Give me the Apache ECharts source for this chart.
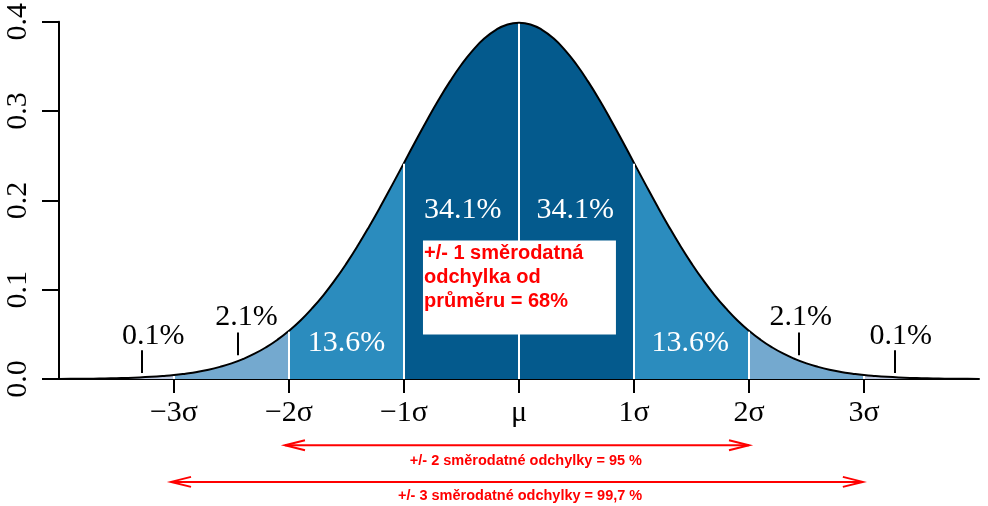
<!DOCTYPE html>
<html>
<head>
<meta charset="utf-8">
<script src="https://cdn.jsdelivr.net/npm/echarts@6/dist/echarts.min.js"></script>
<style>html,body{margin:0;padding:0;background:#fff;}#c{width:988px;height:506px;}</style>
</head>
<body>
<div id="c"></div>
<script>
// ---- data ----
const xs = [-4.0,-3.9,-3.8,-3.7,-3.6,-3.5,-3.4,-3.3,-3.2,-3.1,-3.0,-2.9,-2.8,-2.7,-2.6,-2.5,-2.4,-2.3,-2.2,-2.1,
  -2.0,-1.9,-1.8,-1.7,-1.6,-1.5,-1.4,-1.3,-1.2,-1.1,-1.0,-0.9,-0.8,-0.7,-0.6,-0.5,-0.4,-0.3,-0.2,-0.1,
  0.0,0.1,0.2,0.3,0.4,0.5,0.6,0.7,0.8,0.9,1.0,1.1,1.2,1.3,1.4,1.5,1.6,1.7,1.8,1.9,
  2.0,2.1,2.2,2.3,2.4,2.5,2.6,2.7,2.8,2.9,3.0,3.1,3.2,3.3,3.4,3.5,3.6,3.7,3.8,3.9,4.0];
const ys = [0.0001,0.0002,0.0003,0.0004,0.0006,0.0009,0.0012,0.0017,0.0024,0.0033,0.0044,0.0060,0.0079,0.0104,0.0136,0.0175,0.0224,0.0283,0.0355,0.0440,
  0.0540,0.0656,0.0790,0.0940,0.1109,0.1295,0.1497,0.1714,0.1942,0.2179,0.2420,0.2661,0.2897,0.3123,0.3332,0.3521,0.3683,0.3814,0.3910,0.3970,
  0.3989,0.3970,0.3910,0.3814,0.3683,0.3521,0.3332,0.3123,0.2897,0.2661,0.2420,0.2179,0.1942,0.1714,0.1497,0.1295,0.1109,0.0940,0.0790,0.0656,
  0.0540,0.0440,0.0355,0.0283,0.0224,0.0175,0.0136,0.0104,0.0079,0.0060,0.0044,0.0033,0.0024,0.0017,0.0012,0.0009,0.0006,0.0004,0.0003,0.0002,0.0001];
const regionFrom = [-4, -3, -2, -1, 1, 2, 3];
const regionTo   = [-3, -2, -1, 1, 2, 3, 4];
const regionColor = ['#BDC9E1', '#74A9CF', '#2B8CBE', '#045A8D', '#2B8CBE', '#74A9CF', '#BDC9E1'];
const dividers = [-3, -2, -1, 0, 1, 2, 3];
const tickValues = [-3, -2, -1, 0, 1, 2, 3];
const tickLabels = ['\u22123\u03c3', '\u22122\u03c3', '\u22121\u03c3', '\u03bc', '1\u03c3', '2\u03c3', '3\u03c3'];
const yTicks = [0.0, 0.1, 0.2, 0.3, 0.4];
// percentage labels: text, x, y (data units)
const pctText = ['0.1%', '2.1%', '13.6%', '34.1%', '34.1%', '13.6%', '2.1%', '0.1%'];
const pctX    = [-3.18, -2.37, -1.50, -0.49, 0.49, 1.49, 2.45, 3.32];
const pctY    = [0.0475, 0.0693, 0.0399, 0.1889, 0.1889, 0.0399, 0.0693, 0.0475];
const pctColor = ['#000', '#000', '#fff', '#fff', '#fff', '#fff', '#000', '#000'];
// pointer marks for tail labels
const markX  = [-3.278, -2.443, 2.435, 3.270];
const markY0 = [0.0066, 0.0266, 0.0266, 0.0066];
const markY1 = [0.0321, 0.0521, 0.0521, 0.0321];
// red annotation
const boxText = '+/- 1 sm\u011brodatn\u00e1\nodchylka od\npr\u016fm\u011bru = 68%';
const boxX = [-0.835, 0.843];
const boxY = [0.1551, 0.0499];
const arrowText = ['+/- 2 sm\u011brodatn\u00e9 odchylky = 95 %', '+/- 3 sm\u011brodatn\u00e9 odchylky = 99,7 %'];
const arrowFrom = [-2.035, -3.026];
const arrowTo   = [2.0, 2.99];
const arrowY    = [-0.0742, -0.1152];
const arrowTextX = [0.06, 0.01];
const arrowTextY = [-0.0920, -0.1307];

const SERIF = "'Liberation Serif','Times New Roman',serif";
const SANS = "'Liberation Sans',Arial,sans-serif";

const chart = echarts.init(document.getElementById('c'), null, {renderer: 'canvas'});

function regionData(a, b) {
  const d = [];
  for (let i = 0; i < xs.length; i++) {
    if (xs[i] >= a - 1e-9 && xs[i] <= b + 1e-9) d.push([xs[i], ys[i]]);
  }
  return d;
}
function yAt(x) {
  let best = 0;
  for (let i = 0; i < xs.length; i++) if (Math.abs(xs[i] - x) < Math.abs(xs[best] - x)) best = i;
  return ys[best];
}

const series = [];
for (let r = 0; r < regionFrom.length; r++) {
  series.push({
    type: 'line', data: regionData(regionFrom[r], regionTo[r]), smooth: true, symbol: 'none', silent: true,
    lineStyle: {width: 0, color: regionColor[r]}, areaStyle: {color: regionColor[r], opacity: 1}, z: 2
  });
}
series.push({
  type: 'line', data: [], silent: true, z: 3,
  markLine: {
    silent: true, symbol: 'none', animation: false, label: {show: false},
    lineStyle: {color: '#fff', width: 2, type: 'solid'},
    data: dividers.map(x => [{coord: [x, 0]}, {coord: [x, yAt(x) - 0.001]}])
  }
});
series.push({
  type: 'line', data: xs.map((x, i) => [x, ys[i]]), smooth: true, symbol: 'none', silent: true, z: 4,
  lineStyle: {color: '#000', width: 2},
  markLine: {
    silent: true, symbol: 'none', animation: false, label: {show: false},
    lineStyle: {color: '#000', width: 2, type: 'solid'},
    data: markX.map((x, i) => [{coord: [x, markY0[i]]}, {coord: [x, markY1[i]]}])
  }
});

chart.setOption({
  animation: false,
  grid: {left: 59, right: 9, top: 18, bottom: 127, containLabel: false},
  xAxis: {
    type: 'value', min: -4, max: 4, interval: 1,
    axisLine: {show: true, onZero: false, lineStyle: {color: '#000', width: 2}},
    axisTick: {show: true, length: 14, lineStyle: {color: '#000', width: 2}, customValues: tickValues},
    axisLabel: {
      show: true, margin: 19, color: '#000', fontFamily: SERIF, fontSize: 30,
      customValues: tickValues,
      formatter: v => { const i = tickValues.indexOf(Math.round(v)); return i >= 0 ? tickLabels[i] : ''; }
    },
    splitLine: {show: false}
  },
  yAxis: {
    type: 'value', min: 0, max: 0.4, interval: 0.1,
    axisLine: {show: true, onZero: false, lineStyle: {color: '#000', width: 2}},
    axisTick: {show: true, length: 17, lineStyle: {color: '#000', width: 2}},
    axisLabel: {
      show: true, rotate: 90, margin: 26, color: '#000', fontFamily: SERIF, fontSize: 30,
      formatter: v => { const i = yTicks.findIndex(t => Math.abs(t - v) < 1e-6); return i >= 0 ? yTicks[i].toFixed(1) : ''; }
    },
    splitLine: {show: false}
  },
  series: series
});

function px(x, y) { return chart.convertToPixel({gridIndex: 0}, [x, y]); }

const g = [];
for (let i = 0; i < pctText.length; i++) {
  const p = px(pctX[i], pctY[i]);
  g.push({type: 'text', x: p[0], y: p[1], z: 20, style: {
    text: pctText[i], fill: pctColor[i], font: '30px ' + SERIF, align: 'center', verticalAlign: 'middle'}});
}
const b0 = px(boxX[0], boxY[0]), b1 = px(boxX[1], boxY[1]);
g.push({type: 'rect', z: 20, shape: {x: b0[0], y: b0[1], width: b1[0] - b0[0], height: b1[1] - b0[1]}, style: {fill: '#fff'}});
g.push({type: 'text', z: 21, x: b0[0] + 1, y: b0[1] + 1, style: {
  text: boxText, fill: '#ff0000', font: 'bold 20px ' + SANS, lineHeight: 24, align: 'left', verticalAlign: 'top'}});
for (let i = 0; i < arrowText.length; i++) {
  const a = px(arrowFrom[i], arrowY[i]), b = px(arrowTo[i], arrowY[i]);
  const st = {stroke: '#ff0000', lineWidth: 2, fill: null};
  g.push({type: 'line', z: 20, shape: {x1: a[0], y1: a[1], x2: b[0], y2: b[1]}, style: st});
  g.push({type: 'polyline', z: 20, shape: {points: [[a[0] + 20, a[1] - 5], [a[0], a[1]], [a[0] + 20, a[1] + 5]]}, style: st});
  g.push({type: 'polyline', z: 20, shape: {points: [[b[0] - 20, b[1] - 5], [b[0], b[1]], [b[0] - 20, b[1] + 5]]}, style: st});
  const t = px(arrowTextX[i], arrowTextY[i]);
  g.push({type: 'text', z: 20, x: t[0], y: t[1], style: {
    text: arrowText[i], fill: '#ff0000', font: 'bold 14.5px ' + SANS, align: 'center', verticalAlign: 'middle'}});
}
chart.setOption({graphic: g});
</script>
</body>
</html>
